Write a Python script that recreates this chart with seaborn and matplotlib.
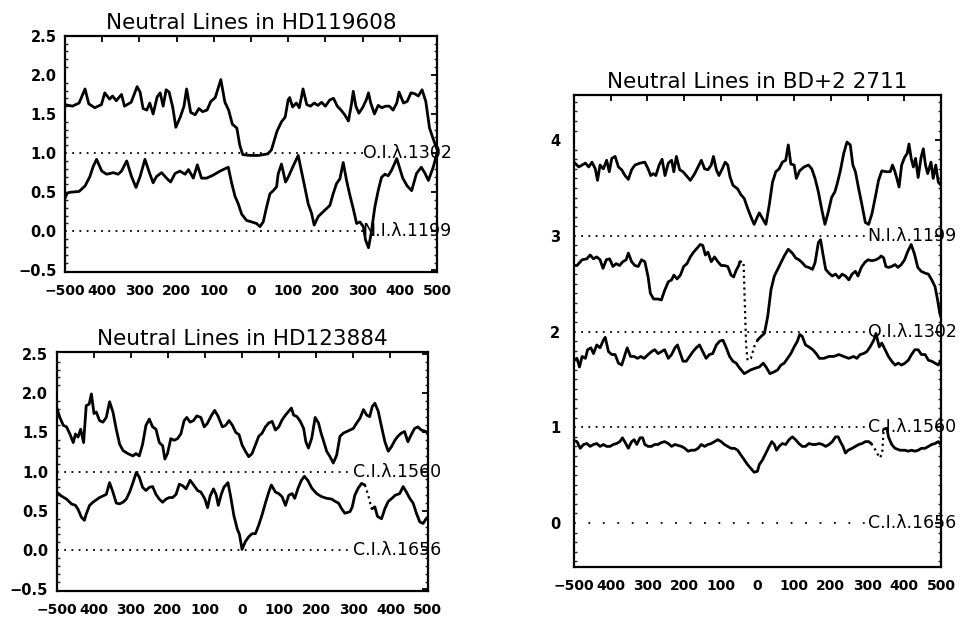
import numpy as np
import pandas as pd
import matplotlib
matplotlib.use("Agg")
import matplotlib.pyplot as plt
from matplotlib.ticker import MultipleLocator, FixedLocator, FixedFormatter
import seaborn as sns

# ---------------- data (velocity km/s, normalised flux + offset) ----------------
# Panel 1: HD119608
hd119608_oi1302_v = [-500, -480, -462, -446, -436, -420, -402, -393, -380, -372, -362, -348, -340, -322,
                     -306, -298, -290, -280, -272, -263, -252, -244, -236, -228, -220, -210, -202, -190,
                     -180, -173, -162, -150, -140, -130, -118, -108, -96, -81, -70, -60, -50, -38, -30,
                     -22, 0, 20, 45, 55, 70, 82, 92, 100, 104, 112, 122, 130, 140, 150, 160, 170, 180,
                     190, 200, 212, 222, 232, 242, 252, 262, 270, 275, 282, 290, 300, 310, 316, 322,
                     332, 342, 352, 362, 372, 382, 392, 398, 410, 420, 430, 440, 450, 460, 470, 480,
                     490, 500]
hd119608_oi1302_y = [1.62, 1.60, 1.64, 1.82, 1.63, 1.58, 1.62, 1.77, 1.69, 1.73, 1.67, 1.75, 1.60, 1.65,
                     1.85, 1.78, 1.57, 1.55, 1.64, 1.50, 1.72, 1.77, 1.60, 1.81, 1.78, 1.58, 1.33, 1.46,
                     1.60, 1.82, 1.52, 1.49, 1.57, 1.53, 1.55, 1.66, 1.71, 1.94, 1.65, 1.55, 1.37, 1.32,
                     1.10, 0.98, 0.97, 0.97, 0.99, 1.04, 1.28, 1.40, 1.46, 1.68, 1.71, 1.59, 1.64, 1.58,
                     1.82, 1.62, 1.60, 1.64, 1.61, 1.65, 1.60, 1.68, 1.70, 1.60, 1.55, 1.49, 1.41, 1.62,
                     1.79, 1.60, 1.51, 1.58, 1.68, 1.77, 1.64, 1.50, 1.61, 1.58, 1.60, 1.60, 1.55, 1.64,
                     1.78, 1.64, 1.66, 1.77, 1.76, 1.73, 1.81, 1.66, 1.32, 1.18, 1.05]

hd119608_ni1199_v = [-500, -494, -485, -462, -446, -433, -424, -415, -401, -388, -370, -357, -348, -334,
                     -321, -309, -298, -285, -273, -263, -254, -240, -227, -216, -204, -191, -177, -168,
                     -155, -144, -133, -119, -101, -83, -61, -52, -43, -34, -25, -12, 2, 15, 24, 33, 42,
                     51, 60, 69, 73, 82, 93, 100, 114, 127, 141, 154, 163, 170, 181, 194, 203, 212, 221,
                     230, 239, 248, 257, 266, 275, 284, 293, 302, 308, 316, 323, 333, 342, 351, 360, 369,
                     378, 392, 408, 420, 432, 445, 458, 468, 477, 490, 500]
hd119608_ni1199_y = [0.42, 0.49, 0.50, 0.51, 0.58, 0.70, 0.83, 0.92, 0.77, 0.73, 0.75, 0.73, 0.77, 0.90,
                     0.70, 0.56, 0.70, 0.92, 0.75, 0.62, 0.70, 0.75, 0.68, 0.63, 0.74, 0.77, 0.73, 0.79,
                     0.68, 0.85, 0.68, 0.68, 0.72, 0.77, 0.82, 0.62, 0.45, 0.35, 0.22, 0.14, 0.12, 0.10,
                     0.06, 0.12, 0.31, 0.48, 0.52, 0.57, 0.73, 0.86, 0.63, 0.69, 0.84, 0.97, 0.65, 0.35,
                     0.23, 0.08, 0.19, 0.25, 0.29, 0.33, 0.48, 0.61, 0.67, 0.88, 0.65, 0.46, 0.29, 0.10,
                     0.12, 0.06, -0.11, -0.21, -0.03, 0.31, 0.52, 0.69, 0.73, 0.71, 0.78, 0.93, 0.68,
                     0.58, 0.52, 0.74, 0.82, 0.74, 0.65, 0.82, 1.00]

# Panel 2: HD123884
hd123884_ci1560_v = [-500, -491, -482, -473, -464, -455, -449, -442, -435, -427, -420, -412, -406, -399,
                     -393, -384, -375, -366, -357, -348, -339, -330, -321, -308, -294, -286, -277, -268,
                     -259, -250, -241, -232, -223, -214, -208, -201, -192, -183, -174, -165, -156, -149,
                     -140, -131, -122, -111, -102, -94, -83, -74, -65, -53, -44, -35, -26, -17, -8, 0, 9,
                     18, 27, 36, 45, 54, 63, 72, 81, 90, 99, 108, 117, 126, 133, 139, 148, 157, 166, 172,
                     179, 188, 197, 206, 213, 219, 228, 237, 246, 255, 264, 273, 282, 291, 300, 309, 318,
                     327, 336, 344, 351, 358, 367, 376, 385, 394, 403, 412, 420, 429, 438, 447, 456, 465,
                     474, 483, 496, 500]
hd123884_ci1560_y = [1.82, 1.69, 1.59, 1.57, 1.48, 1.37, 1.48, 1.44, 1.54, 1.37, 1.84, 1.86, 1.99, 1.74,
                     1.76, 1.65, 1.63, 1.69, 1.89, 1.76, 1.54, 1.35, 1.27, 1.23, 1.20, 1.23, 1.20, 1.35,
                     1.59, 1.67, 1.57, 1.54, 1.37, 1.33, 1.16, 1.23, 1.42, 1.40, 1.42, 1.48, 1.65, 1.69,
                     1.63, 1.65, 1.71, 1.69, 1.57, 1.61, 1.71, 1.78, 1.71, 1.57, 1.59, 1.65, 1.59, 1.50,
                     1.47, 1.34, 1.26, 1.19, 1.23, 1.34, 1.45, 1.49, 1.57, 1.62, 1.64, 1.53, 1.57, 1.66,
                     1.72, 1.77, 1.81, 1.72, 1.70, 1.64, 1.55, 1.38, 1.30, 1.43, 1.69, 1.62, 1.49, 1.40,
                     1.26, 1.19, 1.11, 1.21, 1.45, 1.49, 1.51, 1.53, 1.55, 1.62, 1.68, 1.79, 1.72, 1.70,
                     1.83, 1.87, 1.77, 1.57, 1.38, 1.26, 1.32, 1.40, 1.45, 1.49, 1.51, 1.38, 1.47, 1.55,
                     1.57, 1.53, 1.51, 1.48]

hd123884_ci1656_v = [-500, -487, -473, -460, -449, -442, -433, -425, -420, -411, -402, -393, -384, -375,
                     -366, -357, -348, -339, -330, -321, -312, -303, -294, -285, -277, -268, -259, -250,
                     -241, -232, -223, -214, -205, -196, -187, -178, -169, -160, -151, -140, -129, -120,
                     -111, -100, -93, -86, -77, -70, -64, -56, -49, -38, -31, -22, -13, -7, 0, 9, 18, 27,
                     36, 45, 54, 63, 72, 79, 90, 99, 108, 117, 126, 135, 142, 151, 160, 168, 177, 188,
                     201, 215, 228, 242, 251, 260, 268, 277, 291, 297, 304, 313, 322, 331, 340, 349, 351,
                     358, 365, 376, 385, 394, 404, 413, 425, 434, 443, 452, 461, 470, 479, 488, 496, 500]
hd123884_ci1656_y = [0.74, 0.69, 0.65, 0.59, 0.57, 0.52, 0.42, 0.38, 0.46, 0.57, 0.61, 0.64, 0.67, 0.69,
                     0.71, 0.86, 0.74, 0.60, 0.59, 0.61, 0.65, 0.74, 0.86, 0.99, 0.93, 0.80, 0.76, 0.80,
                     0.81, 0.71, 0.65, 0.61, 0.65, 0.67, 0.67, 0.71, 0.84, 0.82, 0.78, 0.89, 0.82, 0.76,
                     0.74, 0.65, 0.54, 0.69, 0.78, 0.71, 0.57, 0.71, 0.80, 0.86, 0.69, 0.44, 0.27, 0.20,
                     0.01, 0.11, 0.17, 0.21, 0.21, 0.32, 0.45, 0.60, 0.74, 0.83, 0.74, 0.72, 0.68, 0.57,
                     0.70, 0.72, 0.66, 0.79, 0.89, 0.94, 0.89, 0.79, 0.72, 0.68, 0.66, 0.65, 0.62, 0.60,
                     0.53, 0.47, 0.49, 0.55, 0.70, 0.79, 0.85, 0.83, 0.70, 0.53, 0.53, 0.55, 0.43, 0.40,
                     0.53, 0.62, 0.66, 0.70, 0.72, 0.81, 0.74, 0.66, 0.60, 0.47, 0.36, 0.34, 0.40, 0.42]
hd123884_ci1656_gap = (331, 351)

# Panel 3: BD+2 2711
bd2_ni1199_v = [-500, -487, -478, -469, -460, -451, -442, -436, -429, -420, -411, -404, -397, -388, -379,
                -370, -361, -352, -343, -334, -320, -307, -298, -291, -284, -277, -268, -260, -252, -243,
                -234, -228, -221, -212, -203, -194, -183, -171, -162, -153, -144, -135, -126, -120, -112,
                -105, -96, -88, -81, -75, -67, -54, -45, -36, -27, -18, -9, 0, 5, 14, 23, 32, 41, 50, 59,
                68, 77, 84, 91, 100, 106, 115, 127, 139, 148, 157, 166, 175, 184, 193, 202, 211, 217,
                226, 235, 244, 253, 260, 267, 276, 285, 294, 303, 312, 321, 330, 339, 350, 362, 368,
                374, 380, 386, 393, 401, 408, 413, 419, 425, 431, 438, 446, 452, 458, 464, 473, 479,
                486, 493, 500]
bd2_ni1199_y = [3.77, 3.72, 3.74, 3.76, 3.72, 3.77, 3.70, 3.58, 3.74, 3.70, 3.79, 3.67, 3.81, 3.83, 3.72,
                3.69, 3.63, 3.59, 3.69, 3.74, 3.76, 3.77, 3.70, 3.63, 3.65, 3.63, 3.74, 3.80, 3.63, 3.76,
                3.79, 3.67, 3.83, 3.69, 3.67, 3.63, 3.58, 3.65, 3.72, 3.79, 3.70, 3.69, 3.74, 3.83, 3.69,
                3.63, 3.70, 3.77, 3.74, 3.62, 3.53, 3.49, 3.43, 3.39, 3.29, 3.20, 3.12, 3.20, 3.24, 3.18,
                3.12, 3.32, 3.56, 3.67, 3.70, 3.77, 3.79, 3.95, 3.75, 3.74, 3.60, 3.68, 3.72, 3.74, 3.70,
                3.60, 3.46, 3.28, 3.12, 3.25, 3.40, 3.46, 3.54, 3.68, 3.86, 3.98, 3.95, 3.74, 3.67, 3.49,
                3.32, 3.14, 3.12, 3.23, 3.40, 3.58, 3.68, 3.67, 3.67, 3.74, 3.68, 3.60, 3.51, 3.74, 3.82,
                3.86, 3.96, 3.81, 3.72, 3.81, 3.61, 3.82, 3.91, 3.74, 3.65, 3.77, 3.60, 3.74, 3.56, 3.53]

bd2_oi1302_v = [-500, -492, -478, -465, -456, -447, -438, -429, -421, -412, -403, -394, -385, -376, -367,
                -358, -352, -343, -334, -325, -316, -307, -298, -292, -283, -271, -262, -253, -243, -234,
                -228, -219, -210, -201, -192, -183, -174, -165, -156, -149, -142, -135, -126, -117, -108,
                -99, -90, -81, -72, -65, -58, -51, -48, -38, -31, -27, -18, -8, 0, 10, 19, 28, 37, 46, 55,
                64, 73, 84, 95, 104, 113, 122, 131, 140, 150, 157, 166, 172, 178, 186, 195, 204, 213, 222,
                231, 240, 249, 258, 267, 274, 283, 292, 301, 312, 323, 332, 337, 344, 350, 357, 366, 375,
                383, 392, 401, 410, 419, 428, 437, 446, 457, 466, 475, 484, 491, 497, 500]
bd2_oi1302_y = [2.69, 2.69, 2.75, 2.76, 2.80, 2.76, 2.78, 2.75, 2.66, 2.75, 2.76, 2.68, 2.71, 2.69, 2.73,
                2.75, 2.82, 2.73, 2.69, 2.68, 2.75, 2.73, 2.57, 2.40, 2.34, 2.34, 2.33, 2.43, 2.52, 2.54,
                2.59, 2.55, 2.59, 2.68, 2.71, 2.78, 2.83, 2.87, 2.91, 2.90, 2.80, 2.83, 2.73, 2.78, 2.73,
                2.69, 2.69, 2.68, 2.59, 2.57, 2.64, 2.69, 2.73, 2.73, 1.86, 1.70, 1.72, 1.85, 1.91, 1.95,
                1.98, 2.16, 2.44, 2.58, 2.65, 2.72, 2.79, 2.86, 2.82, 2.77, 2.75, 2.72, 2.68, 2.67, 2.65,
                2.72, 2.93, 2.96, 2.82, 2.65, 2.61, 2.58, 2.60, 2.56, 2.60, 2.58, 2.54, 2.60, 2.63, 2.58,
                2.67, 2.72, 2.75, 2.74, 2.75, 2.77, 2.79, 2.77, 2.68, 2.67, 2.68, 2.70, 2.67, 2.70, 2.75,
                2.84, 2.91, 2.81, 2.67, 2.63, 2.61, 2.60, 2.54, 2.47, 2.33, 2.19, 2.15]
bd2_oi1302_gap = (-48, 0)

bd2_ci1560_v = [-500, -492, -485, -478, -469, -463, -454, -447, -438, -429, -420, -415, -406, -397, -388,
                -379, -370, -361, -355, -346, -336, -327, -318, -309, -298, -289, -280, -271, -262, -253,
                -243, -234, -225, -218, -212, -203, -194, -185, -176, -167, -158, -149, -140, -131, -122,
                -112, -103, -94, -85, -76, -67, -58, -49, -36, -27, -18, -4, 5, 16, 25, 34, 46, 55, 64, 73,
                82, 91, 100, 109, 115, 122, 131, 140, 151, 160, 169, 181, 195, 208, 222, 235, 249, 262,
                271, 280, 289, 298, 307, 317, 323, 332, 339, 348, 357, 366, 375, 384, 393, 402, 411, 420,
                429, 438, 447, 457, 466, 475, 484, 493, 500]
bd2_ci1560_y = [1.70, 1.72, 1.63, 1.74, 1.72, 1.81, 1.83, 1.77, 1.86, 1.83, 1.91, 1.94, 1.79, 1.76, 1.76,
                1.67, 1.65, 1.76, 1.83, 1.74, 1.74, 1.72, 1.74, 1.72, 1.76, 1.79, 1.81, 1.77, 1.79, 1.81,
                1.72, 1.76, 1.83, 1.86, 1.79, 1.69, 1.69, 1.74, 1.79, 1.83, 1.86, 1.79, 1.72, 1.76, 1.77,
                1.86, 1.90, 1.91, 1.83, 1.74, 1.69, 1.67, 1.62, 1.56, 1.58, 1.60, 1.62, 1.63, 1.67, 1.62,
                1.56, 1.58, 1.60, 1.65, 1.67, 1.72, 1.77, 1.84, 1.90, 1.97, 1.95, 1.86, 1.84, 1.81, 1.77,
                1.72, 1.72, 1.74, 1.74, 1.76, 1.74, 1.72, 1.74, 1.72, 1.76, 1.77, 1.79, 1.84, 1.91, 1.98,
                1.84, 1.88, 1.81, 1.74, 1.69, 1.65, 1.67, 1.65, 1.67, 1.70, 1.76, 1.81, 1.81, 1.76, 1.76,
                1.70, 1.69, 1.67, 1.65, 1.70]

bd2_ci1656_v = [-500, -492, -483, -474, -465, -456, -447, -438, -429, -420, -411, -402, -393, -384, -375,
                -368, -359, -352, -343, -336, -329, -320, -313, -307, -298, -289, -280, -271, -262, -253,
                -243, -234, -225, -216, -207, -198, -189, -180, -171, -162, -153, -144, -135, -126, -117,
                -108, -99, -90, -81, -72, -63, -54, -45, -36, -27, -18, -9, 0, 5, 14, 23, 32, 39, 46, 52,
                59, 68, 77, 86, 95, 104, 113, 122, 131, 140, 150, 159, 168, 177, 186, 195, 204, 213, 220,
                226, 233, 240, 247, 258, 267, 276, 285, 294, 303, 310, 322, 333, 340, 344, 353, 357, 366,
                375, 389, 402, 411, 420, 429, 438, 447, 457, 466, 475, 484, 493, 500]
bd2_ci1656_y = [0.86, 0.85, 0.78, 0.82, 0.83, 0.80, 0.82, 0.83, 0.80, 0.82, 0.80, 0.80, 0.82, 0.83, 0.85,
                0.89, 0.83, 0.78, 0.85, 0.87, 0.82, 0.89, 0.89, 0.82, 0.80, 0.80, 0.82, 0.82, 0.84, 0.85,
                0.83, 0.80, 0.82, 0.81, 0.80, 0.78, 0.75, 0.76, 0.76, 0.78, 0.82, 0.80, 0.82, 0.83, 0.85,
                0.87, 0.85, 0.82, 0.80, 0.78, 0.78, 0.76, 0.71, 0.66, 0.61, 0.57, 0.53, 0.54, 0.61, 0.66,
                0.73, 0.80, 0.85, 0.82, 0.76, 0.80, 0.83, 0.82, 0.87, 0.90, 0.87, 0.83, 0.80, 0.80, 0.83,
                0.82, 0.82, 0.83, 0.82, 0.80, 0.82, 0.85, 0.90, 0.90, 0.85, 0.80, 0.73, 0.76, 0.78, 0.80,
                0.82, 0.83, 0.85, 0.85, 0.83, 0.76, 0.68, 0.72, 0.98, 0.99, 0.90, 0.82, 0.78, 0.76, 0.76,
                0.75, 0.76, 0.75, 0.76, 0.78, 0.78, 0.80, 0.82, 0.83, 0.85, 0.82]
bd2_ci1656_gap = (310, 344)

# line labels (text, zero level)
hd119608_labels = [("O.I.λ.1302", 1.0), ("N.I.λ.1199", 0.0)]
hd123884_labels = [("C.I.λ.1560", 1.0), ("C.I.λ.1656", 0.0)]
bd2_labels = [("N.I.λ.1199", 3.0), ("O.I.λ.1302", 2.0), ("C.I.λ.1560", 1.0), ("C.I.λ.1656", 0.0)]

titles = ["Neutral Lines in HD119608", "Neutral Lines in HD123884", "Neutral Lines in BD+2 2711"]
xtick_vals = [-500, -400, -300, -200, -100, 0, 100, 200, 300, 400, 500]
xtick_text = ["\u2212500", "400", "300", "200", "100", "0", "100", "200", "300", "400", "500"]
ytick_vals_small = [-0.5, 0.0, 0.5, 1.0, 1.5, 2.0, 2.5]
ytick_text_small = ["\u22120.5", "0.0", "0.5", "1.0", "1.5", "2.0", "2.5"]
ytick_vals_big = [0, 1, 2, 3, 4]
ytick_text_big = ["0", "1", "2", "3", "4"]

# ---------------- styling ----------------
sns.set_theme(style="white")
plt.rcParams["font.family"] = ["DejaVu Sans"]
plt.rcParams["axes.edgecolor"] = "black"

fig = plt.figure(figsize=(9.68, 6.2), dpi=100)
fig.patch.set_facecolor("white")
ax1 = fig.add_axes([0.0671, 0.5613, 0.3843, 0.381])
ax2 = fig.add_axes([0.0584, 0.0468, 0.3833, 0.385])
ax3 = fig.add_axes([0.593, 0.0855, 0.379, 0.761])

LW = 2.0


def draw_trace(ax, v, y, gap=None):
    df = pd.DataFrame({"v": v, "y": y})
    if gap is None:
        parts = [(df, "-")]
    else:
        lo, hi = gap
        parts = [(df[df.v <= lo], "-"), (df[(df.v >= lo) & (df.v <= hi)], ":"), (df[df.v >= hi], "-")]
    for part, ls in parts:
        sns.lineplot(data=part, x="v", y="y", ax=ax, color="black", sort=False, estimator=None,
                     lw=LW if ls == "-" else 1.6, linestyle=ls, zorder=3, legend=False)


def draw_refs(ax, labels, sparse_zero=False):
    for text, lvl in labels:
        ref = pd.DataFrame({"v": [-500, 300], "y": [lvl, lvl]})
        dash = (0, (1, 7)) if (sparse_zero and lvl == 0) else (0, (1, 3))
        sns.lineplot(data=ref, x="v", y="y", ax=ax, color="black", lw=1.3, estimator=None,
                     linestyle=dash, zorder=2, legend=False)
        ax.text(300, lvl, text, ha="left", va="center", fontsize=12.5, color="black",
                clip_on=False, zorder=1)


def style_axes(ax, title, ylim, yvals, ytext, ypad):
    ax.set_xlim(-500, 500)
    ax.set_ylim(*ylim)
    ax.set_xlabel("")
    ax.set_ylabel("")
    ax.xaxis.set_major_locator(FixedLocator(xtick_vals))
    ax.xaxis.set_major_formatter(FixedFormatter(xtick_text))
    ax.yaxis.set_major_locator(FixedLocator(yvals))
    ax.yaxis.set_major_formatter(FixedFormatter(ytext))
    ax.yaxis.set_minor_locator(MultipleLocator(0.1))
    ax.tick_params(which="major", direction="in", top=True, right=True, length=4.5, width=1.3,
                   labelsize=10, colors="black")
    ax.tick_params(axis="x", which="major", pad=9)
    ax.tick_params(axis="y", which="major", pad=ypad, labelsize=10.5)
    ax.tick_params(which="minor", direction="in", left=True, right=True, length=2.5, width=1.0)
    for lab in ax.get_xticklabels() + ax.get_yticklabels():
        lab.set_fontweight("bold")
    for sp in ax.spines.values():
        sp.set_linewidth(1.6)
        sp.set_color("black")
    ax.set_title(title, fontsize=15.5, pad=5, color="black")
    ax.set_facecolor("white")


# Panel 1
draw_trace(ax1, hd119608_oi1302_v, hd119608_oi1302_y)
draw_trace(ax1, hd119608_ni1199_v, hd119608_ni1199_y)
draw_refs(ax1, hd119608_labels)
style_axes(ax1, titles[0], (-0.52, 2.5), ytick_vals_small, ytick_text_small, 6)

# Panel 2
draw_trace(ax2, hd123884_ci1560_v, hd123884_ci1560_y)
draw_trace(ax2, hd123884_ci1656_v, hd123884_ci1656_y, hd123884_ci1656_gap)
draw_refs(ax2, hd123884_labels)
style_axes(ax2, titles[1], (-0.52, 2.52), ytick_vals_small, ytick_text_small, 6)

# Panel 3
draw_trace(ax3, bd2_ni1199_v, bd2_ni1199_y)
draw_trace(ax3, bd2_oi1302_v, bd2_oi1302_y, bd2_oi1302_gap)
draw_trace(ax3, bd2_ci1560_v, bd2_ci1560_y)
draw_trace(ax3, bd2_ci1656_v, bd2_ci1656_y, bd2_ci1656_gap)
draw_refs(ax3, bd2_labels, sparse_zero=True)
style_axes(ax3, titles[2], (-0.46, 4.47), ytick_vals_big, ytick_text_big, 10)

fig.savefig("out.png", dpi=100, facecolor="white")
